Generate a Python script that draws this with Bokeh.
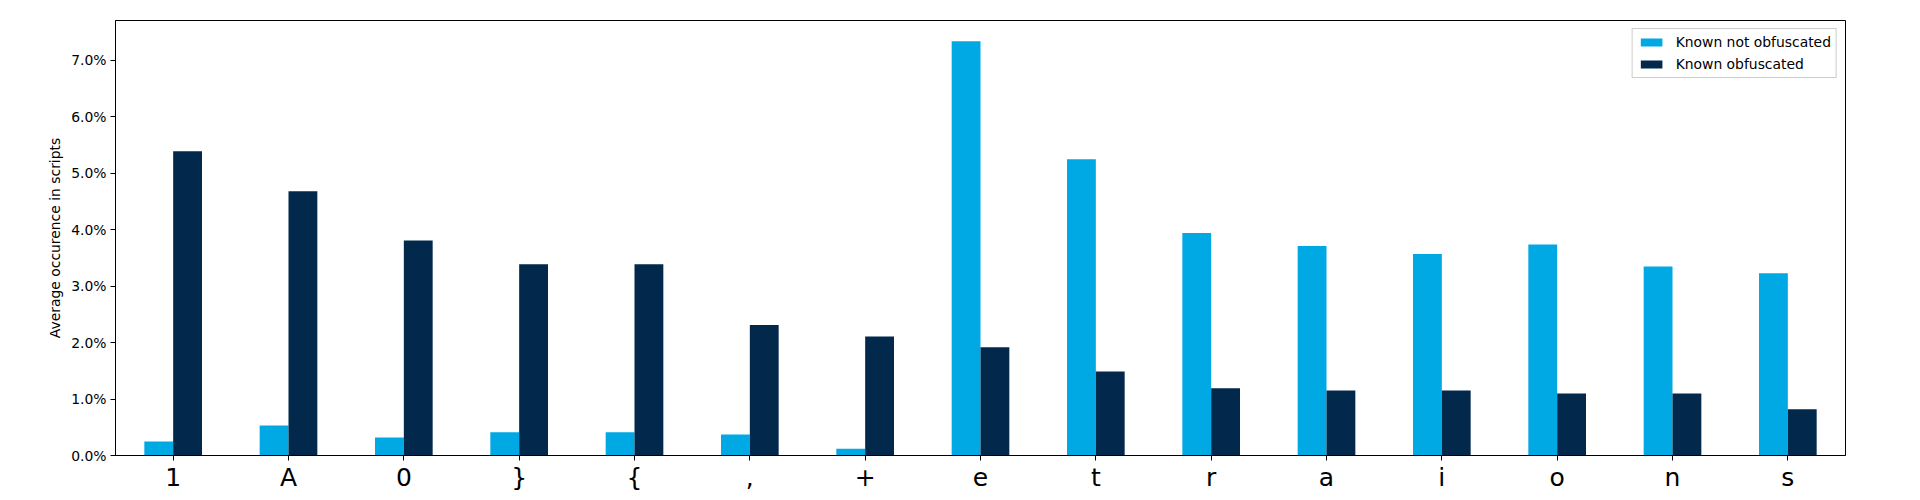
from bokeh.plotting import figure
from bokeh.models import ColumnDataSource, Range1d, FactorRange, FixedTicker, PrintfTickFormatter, Legend, LegendItem
from bokeh.transform import dodge
from bokeh.embed import file_html
from bokeh.resources import INLINE

# ---- data (percent) ----
categories = ["1", "A", "0", "}", "{", ",", "+", "e", "t", "r", "a", "i", "o", "n", "s"]
not_obfuscated = [0.25, 0.53, 0.32, 0.41, 0.41, 0.37, 0.12, 7.34, 5.25, 3.94, 3.71, 3.57, 3.74, 3.35, 3.23]
obfuscated = [5.39, 4.68, 3.81, 3.39, 3.39, 2.31, 2.11, 1.92, 1.49, 1.19, 1.15, 1.15, 1.10, 1.10, 0.82]
series_names = ["Known not obfuscated", "Known obfuscated"]
y_ticks = [0, 1, 2, 3, 4, 5, 6, 7]

LIGHT = "#00A9E4"
DARK = "#02284B"
FONT = "DejaVu Sans"

source = ColumnDataSource(dict(cat=categories, nob=not_obfuscated, ob=obfuscated))

ymax = max(max(not_obfuscated), max(obfuscated)) * 1.05

p = figure(
    x_range=FactorRange(*categories, range_padding=0),
    y_range=Range1d(0, ymax),
    frame_width=1730, frame_height=435,
    min_border_left=115, min_border_top=20, min_border_right=50, min_border_bottom=30,
    output_backend="svg", toolbar_location=None,
)

r1 = p.vbar(x=dodge("cat", -0.125, range=p.x_range), top="nob", width=0.25,
            source=source, fill_color=LIGHT, line_color=None)
r2 = p.vbar(x=dodge("cat", 0.125, range=p.x_range), top="ob", width=0.25,
            source=source, fill_color=DARK, line_color=None)

p.xgrid.visible = False
p.ygrid.visible = False
p.outline_line_color = "black"
p.outline_line_alpha = 1.0
p.outline_line_width = 1

for ax in (p.xaxis[0], p.yaxis[0]):
    ax.axis_line_color = "black"
    ax.major_tick_line_color = "black"
    ax.major_tick_out = 5
    ax.major_tick_in = 0
    ax.minor_tick_line_color = None
    ax.major_label_text_font = FONT
    ax.major_label_text_color = "black"

p.yaxis.ticker = FixedTicker(ticks=y_ticks)
p.yaxis.formatter = PrintfTickFormatter(format="%.1f%%")
p.yaxis.major_label_text_font_size = "13.9px"
p.yaxis.major_label_standoff = 4
p.yaxis.axis_label = "Average occurence in scripts"
p.yaxis.axis_label_text_font = FONT
p.yaxis.axis_label_text_font_size = "13.9px"
p.yaxis.axis_label_text_font_style = "normal"
p.yaxis.axis_label_text_color = "black"
p.yaxis.axis_label_standoff = 5

p.xaxis.major_label_text_font_size = "25px"
p.xaxis.major_label_standoff = 2

legend = Legend(items=[LegendItem(label=series_names[0], renderers=[r1]),
                       LegendItem(label=series_names[1], renderers=[r2])],
                location="top_right", margin=8, padding=5, spacing=6,
                glyph_width=27, glyph_height=10, label_height=14, label_standoff=11,
                label_text_font=FONT, label_text_font_size="13.9px", label_text_color="black",
                border_line_color="#cccccc", border_line_alpha=1.0,
                background_fill_color="white", background_fill_alpha=0.8)
p.add_layout(legend)

open("out.html", "w").write(file_html(p, INLINE))
